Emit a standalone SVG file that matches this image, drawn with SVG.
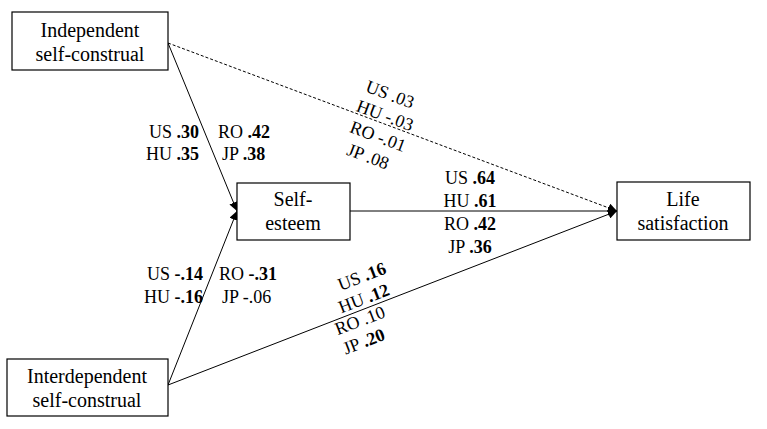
<svg xmlns="http://www.w3.org/2000/svg" width="767" height="429" viewBox="0 0 767 429" font-family="Liberation Serif, DejaVu Serif, serif">
<style>
rect{fill:#fff;stroke:#000;stroke-width:1.2}
text{font-family:"Liberation Serif","DejaVu Serif",serif;font-size:18px;fill:#000;text-anchor:middle}
.n{font-size:20px}
.c line{stroke:#000;stroke-width:1}
.b{font-weight:bold}
</style>
<defs><marker id="a" viewBox="0 0 10 10" refX="10" refY="5" markerWidth="9" markerHeight="9" markerUnits="userSpaceOnUse" orient="auto"><path d="M0,0L10,5L0,10z"/></marker></defs>
<rect x="0" y="0" width="767" height="429" style="stroke:none"/>
<g class="c">
<line x1="168" y1="43" x2="237" y2="211" marker-end="url(#a)"/>
<line x1="168" y1="43" x2="617" y2="211" stroke-dasharray="3,2" marker-end="url(#a)"/>
<line x1="350" y1="211" x2="617" y2="211" marker-end="url(#a)"/>
<line x1="168" y1="385" x2="237" y2="211" marker-end="url(#a)"/>
<line x1="168" y1="385" x2="617" y2="211" marker-end="url(#a)"/>
</g>
<g id="n1"><rect x="12" y="12" width="156" height="58"/><text class="n" x="90" y="37">Independent</text><text class="n" x="90" y="61">self-construal</text></g>
<g id="n2"><rect x="237" y="183" width="113" height="57"/><text class="n" x="293" y="206">Self-</text><text class="n" x="293" y="230">esteem</text></g>
<g id="n3"><rect x="617" y="182" width="133" height="58"/><text class="n" x="683" y="206">Life</text><text class="n" x="683" y="230">satisfaction</text></g>
<g id="n4"><rect x="7" y="359" width="161" height="57"/><text class="n" x="87" y="383">Interdependent</text><text class="n" x="87" y="407">self-construal</text></g>
<g id="labels">
<text x="199" y="138" style="text-anchor:end">US <tspan class="b">.30</tspan></text>
<text x="199" y="160" style="text-anchor:end">HU <tspan class="b">.35</tspan></text>
<text x="218" y="138" style="text-anchor:start">RO <tspan class="b">.42</tspan></text>
<text x="222" y="160" style="text-anchor:start">JP <tspan class="b">.38</tspan></text>
<text x="203" y="280" style="text-anchor:end">US <tspan class="b">-.14</tspan></text>
<text x="203" y="303" style="text-anchor:end">HU <tspan class="b">-.16</tspan></text>
<text x="219" y="280" style="text-anchor:start">RO <tspan class="b">-.31</tspan></text>
<text x="222" y="303" style="text-anchor:start">JP -.06</text>
<text x="470" y="184">US <tspan class="b">.64</tspan></text>
<text x="470" y="207">HU <tspan class="b">.61</tspan></text>
<text x="470" y="230">RO <tspan class="b">.42</tspan></text>
<text x="470" y="253">JP <tspan class="b">.36</tspan></text>
<text transform="translate(388,100) rotate(20.5)">US .03</text>
<text transform="translate(383,121) rotate(20.5)">HU -.03</text>
<text transform="translate(376,142) rotate(20.5)">RO -.01</text>
<text transform="translate(366,162) rotate(20.5)">JP .08</text>
<text transform="translate(364,282) rotate(-21)">US <tspan class="b">.16</tspan></text>
<text transform="translate(366,304) rotate(-21)">HU <tspan class="b">.12</tspan></text>
<text transform="translate(362,326) rotate(-21)">RO .10</text>
<text transform="translate(366,347) rotate(-21)">JP <tspan class="b">.20</tspan></text>
</g>
</svg>
